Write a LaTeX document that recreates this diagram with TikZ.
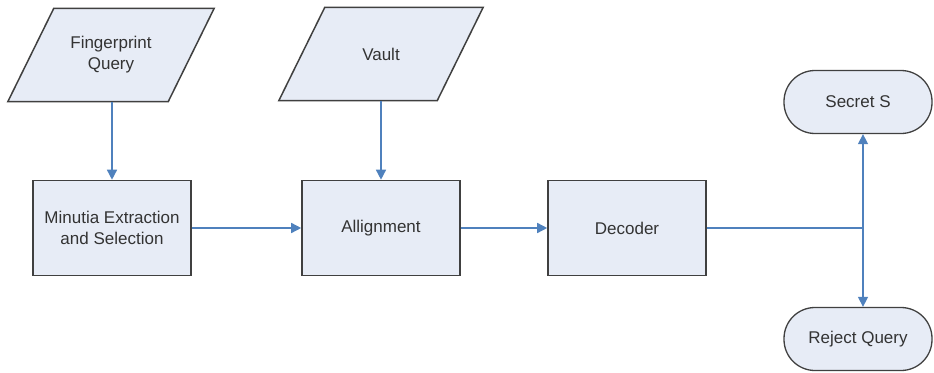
\documentclass[tikz,border=0pt]{standalone}
\usepackage{fontspec}
\setmainfont{Liberation Sans}
\usetikzlibrary{arrows.meta,calc}
\definecolor{boxfill}{HTML}{E7ECF6}
\definecolor{boxline}{HTML}{404040}
\definecolor{arrowblue}{HTML}{4F81BD}
\begin{document}
\begin{tikzpicture}[x=1pt,y=-1pt,
  txt/.style={font=\fontsize{17}{21}\selectfont, align=center, text=black!80},
  procbox/.style={txt, draw=boxline, fill=boxfill, line width=1.6pt, minimum width=158pt, minimum height=95pt, inner sep=0pt},
  termbox/.style={txt, draw=boxline, fill=boxfill, line width=1.3pt, minimum width=148pt, minimum height=63pt, rounded corners=31pt, inner sep=0pt},
  ioarea/.style={txt, minimum width=158pt, minimum height=93pt, inner sep=0pt},
  iofill/.style={draw=boxline, fill=boxfill, line width=1.5pt, line join=miter},
  flow/.style={draw=arrowblue, line width=1.5pt, -{Triangle[length=10pt,width=10pt]}},
  flowline/.style={draw=arrowblue, line width=1.5pt}
]
\useasboundingbox (0,0) rectangle (934,372);
% input parallelograms
\node[ioarea] (fq) at (111,55) {};
\filldraw[iofill] ($(fq.north west)+(22,0)$) -- ($(fq.north east)+(24,0)$) -- ($(fq.south east)+(-22,0)$) -- ($(fq.south west)+(-24,0)$) -- cycle;
\node[txt] (fqt) at (fq.center) {Fingerprint\\Query};
\node[ioarea] (va) at (381,54) {};
\filldraw[iofill] ($(va.north west)+(23,0)$) -- ($(va.north east)+(23,0)$) -- ($(va.south east)+(-23,0)$) -- ($(va.south west)+(-23,0)$) -- cycle;
\node[txt] (vat) at (va.center) {Vault};
% process boxes
\node[procbox] (me) at (112,228) {Minutia Extraction\\and Selection};
\node[procbox] (al) at (381,228) {Allignment};
\node[procbox] (de) at (627,228) {Decoder};
% terminals
\node[termbox] (ss) at (858,102) {Secret S};
\node[termbox] (rq) at (858,339) {Reject Query};
\coordinate (jn) at (863,228);
% connectors
\draw[flow] (fq.south -| me.north) -- (me.north);
\draw[flow] (va.south -| al.north) -- (al.north);
\draw[flow] (me.east) -- (al.west);
\draw[flow] (al.east) -- (de.west);
\draw[flowline] (de.east) -- (jn);
\draw[flow] (jn) -- (jn |- ss.south);
\draw[flow] (jn) -- (jn |- rq.north);
\end{tikzpicture}
\end{document}
